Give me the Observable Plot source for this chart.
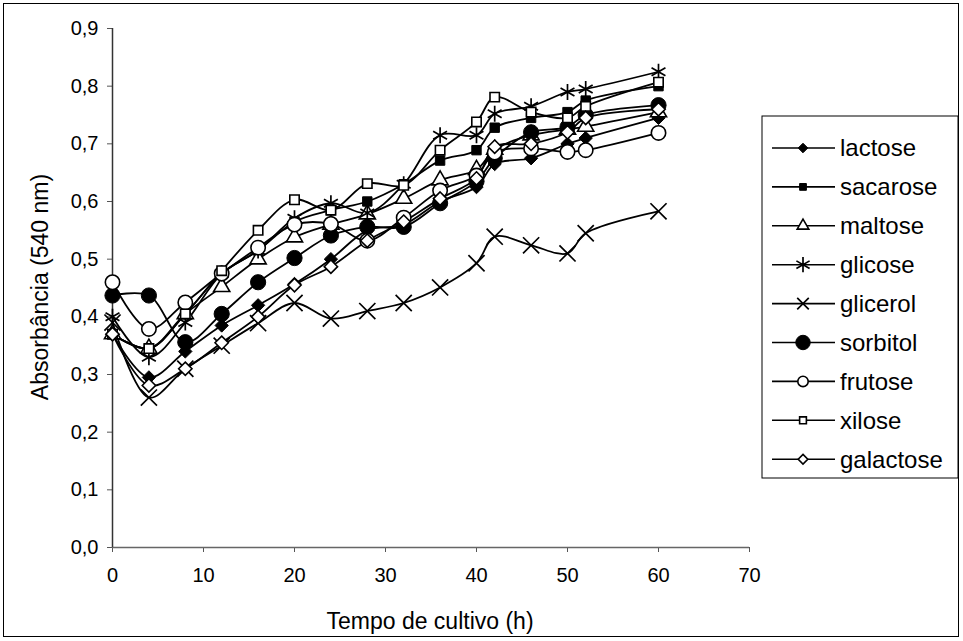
<!DOCTYPE html>
<html><head><meta charset="utf-8">
<script src="https://cdn.jsdelivr.net/npm/d3@7"></script>
<script src="https://cdn.jsdelivr.net/npm/@observablehq/plot@0.6"></script>
<style>
body{margin:0;background:#fff;font-family:"Liberation Sans",Arial,sans-serif;}
#wrap{position:relative;width:963px;height:641px;overflow:hidden;}
#frame{position:absolute;left:3px;top:3px;width:956px;height:634px;border:1px solid #000;box-sizing:border-box;pointer-events:none;}
#legend{position:absolute;left:0;top:0;}
</style>
</head><body>
<div id="wrap"><div id="chart"></div><svg id="legend" width="963" height="641"></svg><div id="frame"></div></div>
<script>
const times = [0,4,8,12,16,20,24,28,32,36,40,42,46,50,52,60];
const lactose   = [0.37,0.295,0.34,0.385,0.42,0.457,0.50,0.55,0.56,0.60,0.625,0.665,0.675,0.70,0.71,0.745];
const sacarose  = [0.37,0.345,0.405,0.475,0.515,0.565,0.585,0.60,0.63,0.671,0.689,0.728,0.745,0.755,0.775,0.80];
const maltose   = [0.37,0.345,0.405,0.452,0.50,0.538,0.56,0.578,0.605,0.637,0.655,0.69,0.715,0.725,0.73,0.755];
const glicose   = [0.40,0.33,0.39,0.475,0.515,0.571,0.597,0.58,0.63,0.715,0.715,0.752,0.765,0.79,0.795,0.825];
const glicerol  = [0.39,0.26,0.31,0.35,0.389,0.424,0.397,0.41,0.424,0.451,0.493,0.539,0.524,0.51,0.545,0.583];
const sorbitol  = [0.437,0.437,0.356,0.405,0.46,0.502,0.541,0.556,0.556,0.597,0.635,0.675,0.72,0.729,0.75,0.767];
const frutose   = [0.46,0.379,0.425,0.475,0.52,0.56,0.561,0.532,0.572,0.619,0.645,0.685,0.692,0.686,0.689,0.719];
const xilose    = [0.37,0.345,0.405,0.48,0.55,0.603,0.585,0.631,0.628,0.689,0.738,0.781,0.755,0.745,0.765,0.807];
const galactose = [0.37,0.281,0.31,0.355,0.40,0.455,0.487,0.532,0.565,0.605,0.64,0.695,0.70,0.72,0.745,0.76];

const seriesNames = ["lactose","sacarose","maltose","glicose","glicerol","sorbitol","frutose","xilose","galactose"];
const seriesValues = [lactose,sacarose,maltose,glicose,glicerol,sorbitol,frutose,xilose,galactose];
const xTicks = [0,10,20,30,40,50,60,70];
const yTicks = [0,0.1,0.2,0.3,0.4,0.5,0.6,0.7,0.8,0.9];
const xTitle = "Tempo de cultivo (h)";
const yTitle = "Absorbância (540 nm)";

// marker styles
const styles = {
  lactose:   {symbol:"diamond2", fill:"black", stroke:"black", r:6.0, sw:1},
  sacarose:  {symbol:"square",   fill:"black", stroke:"black", r:5.3, sw:1},
  maltose:   {symbol:"triangle", fill:"white", stroke:"black", r:6.0, sw:1.6},
  glicose:   {symbol:"asterisk", fill:"none",  stroke:"black", r:7.6, sw:1.7},
  glicerol:  {symbol:"times",    fill:"none",  stroke:"black", r:7.4, sw:1.7},
  sorbitol:  {symbol:"circle",   fill:"black", stroke:"black", r:7.6, sw:1},
  frutose:   {symbol:"circle",   fill:"white", stroke:"black", r:7.2, sw:1.6},
  xilose:    {symbol:"square",   fill:"white", stroke:"black", r:5.3, sw:1.6},
  galactose: {symbol:"diamond2", fill:"white", stroke:"black", r:6.0, sw:1.6}
};

const data = seriesNames.flatMap((name, i) => times.map((t, j) => ({name, t, v: seriesValues[i][j]})));
const fmt = d => d3.format(".1f")(d).replace(".", ",");

const marks = [
  Plot.axisX({ticks: xTicks, tickSize: 5, tickPadding: 15, fontSize: 20, stroke: "#555", label: null, tickFormat: d => String(d)}),
  Plot.axisY({ticks: yTicks, tickSize: 5, tickPadding: 9, fontSize: 20, stroke: "#555", tickFormat: fmt, label: null}),
  Plot.ruleY([0], {stroke: "#666", strokeWidth: 1.5}),
  Plot.ruleX([0], {stroke: "#333", strokeWidth: 1.5}),
  Plot.line(data, {x: "t", y: "v", z: "name", stroke: "black", strokeWidth: 1.8, curve: "catmull-rom"})
];
for (const name of seriesNames) {
  const s = styles[name];
  marks.push(Plot.dot(data.filter(d => d.name === name), {x: "t", y: "v", symbol: () => s.symbol, r: s.r, fill: s.fill, stroke: s.stroke, strokeWidth: s.sw, fillOpacity: 1}));
}

const chart = Plot.plot({
  width: 963, height: 641,
  marginLeft: 112, marginRight: 214, marginTop: 28, marginBottom: 94,
  style: {fontFamily: "'Liberation Sans', Arial, sans-serif", fontSize: "20px", color: "black", background: "transparent"},
  x: {domain: [0, 70]},
  y: {domain: [0, 0.9]},
  symbol: {type: "identity"},
  marks
});
document.getElementById("chart").appendChild(chart);

const ov = d3.select("#legend");
// axis titles
ov.append("text").attr("x", 430).attr("y", 621).attr("dy", "0.35em").attr("text-anchor", "middle")
  .attr("font-size", 23).attr("font-family", "'Liberation Sans', Arial, sans-serif").text(xTitle);
ov.append("text").attr("transform", "translate(40,287) rotate(-90)").attr("dy", "0.35em").attr("text-anchor", "middle")
  .attr("font-size", 23).attr("font-family", "'Liberation Sans', Arial, sans-serif").text(yTitle);

// Legend
const lx = 762, ly = 116, lw = 196, lh = 362, row = 38.9, first = 148;
ov.append("rect").attr("x", lx).attr("y", ly).attr("width", lw).attr("height", lh)
  .attr("fill", "white").attr("stroke", "black").attr("stroke-width", 1);
const symMap = {diamond2: d3.symbolDiamond2, square: d3.symbolSquare, triangle: d3.symbolTriangle, asterisk: d3.symbolAsterisk, times: d3.symbolTimes, circle: d3.symbolCircle};
seriesNames.forEach((name, i) => {
  const s = styles[name];
  const y = first + i * row;
  ov.append("line").attr("x1", 772).attr("x2", 835).attr("y1", y).attr("y2", y).attr("stroke", "black").attr("stroke-width", 1.6);
  const rr = (name === "sorbitol" || name === "glicose") ? s.r * 0.95 : s.r * 0.72;
  ov.append("path").attr("d", d3.symbol(symMap[s.symbol], Math.PI * rr * rr)()).attr("transform", `translate(803,${y})`)
    .attr("fill", s.fill).attr("stroke", s.stroke).attr("stroke-width", s.sw);
  ov.append("text").attr("x", 840).attr("y", y).attr("dy", "0.35em").attr("font-size", 24)
    .attr("font-family", "'Liberation Sans', Arial, sans-serif").text(name);
});
</script>
</body></html>
